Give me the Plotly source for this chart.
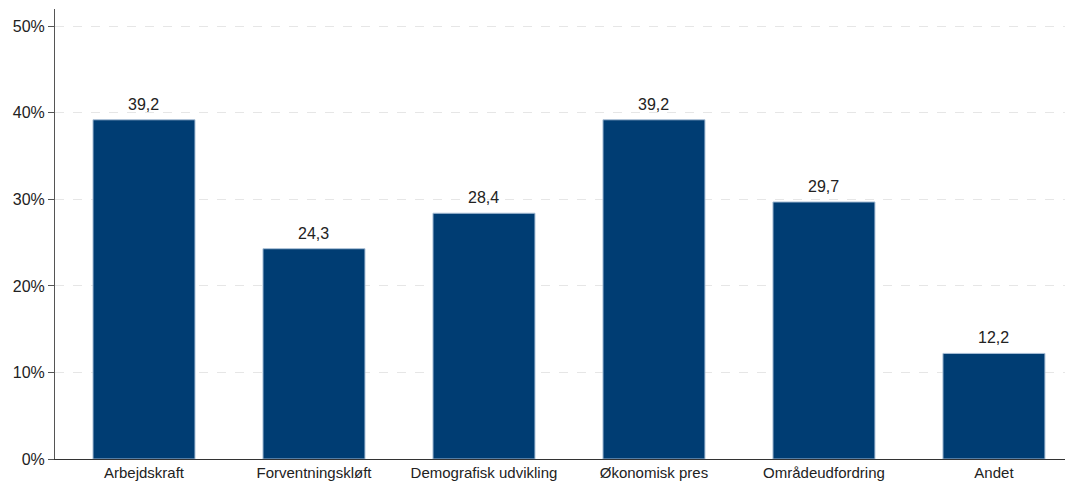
import plotly.graph_objects as go

categories = ["Arbejdskraft", "Forventningskløft", "Demografisk udvikling",
              "Økonomisk pres", "Områdeudfordring", "Andet"]
values = [39.2, 24.3, 28.4, 39.2, 29.7, 12.2]
y_ticks = [0, 10, 20, 30, 40, 50]
y_tick_labels = [f"{t}%" for t in y_ticks]

labels = [f"{v:.1f}".replace(".", ",") for v in values]

fig = go.Figure(
    go.Bar(
        x=categories,
        y=values,
        marker=dict(color="#003d73", line=dict(color="#a9bfd6", width=1)),
        width=0.6,
    )
)

# value labels above each bar
for cat, val, lab in zip(categories, values, labels):
    fig.add_annotation(
        x=cat, y=val, text=lab, showarrow=False,
        yanchor="bottom", yshift=5,
        font=dict(size=16, color="#222222"),
    )

fig.update_layout(
    width=1067,
    height=483,
    margin=dict(l=55, r=2, t=9, b=24),
    paper_bgcolor="white",
    plot_bgcolor="white",
    font=dict(family="Liberation Sans, Arial, sans-serif", size=15, color="#222222"),
    showlegend=False,
)

fig.update_xaxes(
    range=[-0.5235, 5.418],
    showline=True,
    linecolor="#333333",
    linewidth=1,
    ticks="",
    showgrid=False,
    tickfont=dict(size=15),
)

fig.update_yaxes(
    range=[0, 52],
    tickmode="array",
    tickvals=y_ticks,
    ticktext=y_tick_labels,
    showline=True,
    linecolor="#555555",
    linewidth=1,
    ticks="outside",
    ticklen=6,
    tickcolor="#555555",
    showgrid=True,
    gridcolor="#e6e6e6",
    griddash="dash",
    gridwidth=1,
    zeroline=False,
    tickfont=dict(size=16),
)

fig.write_html("out.html")
